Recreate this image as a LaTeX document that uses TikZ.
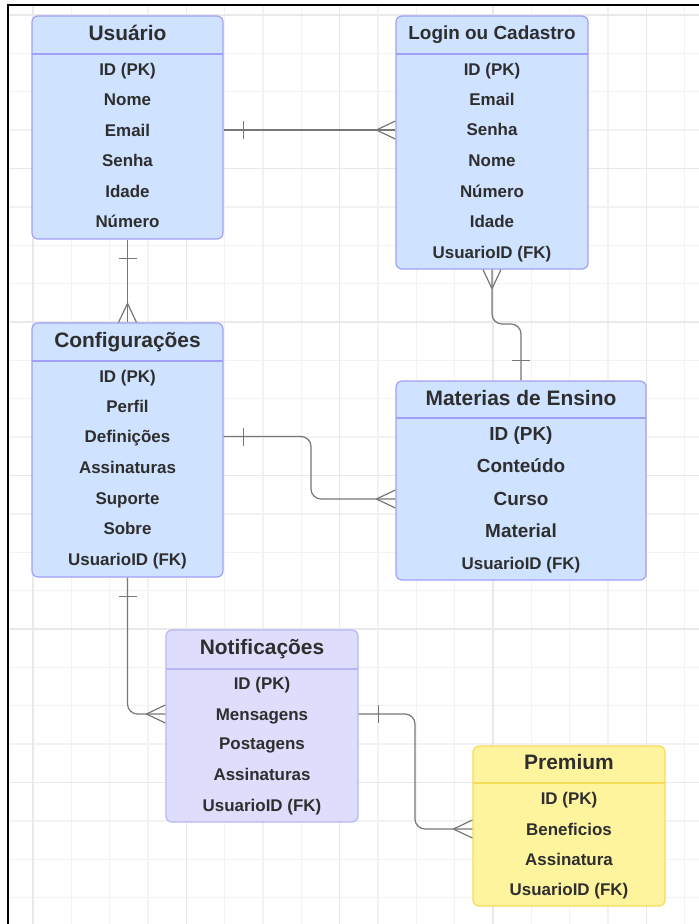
\documentclass[tikz,border=0pt]{standalone}
\usepackage{fontspec}
\setmainfont{Liberation Sans}
\usetikzlibrary{calc,fit}
\definecolor{blfill}{HTML}{CFE2FF}
\definecolor{bldraw}{HTML}{A0A0F8}
\definecolor{lvfill}{HTML}{DEDDFC}
\definecolor{lvdraw}{HTML}{B8B6F6}
\definecolor{ylfill}{HTML}{FFF49E}
\definecolor{yldraw}{HTML}{F6DB5C}
\definecolor{txtc}{HTML}{2E2E2E}
\definecolor{connc}{HTML}{777777}
\definecolor{gridmin}{HTML}{F2F2F2}
\definecolor{gridmaj}{HTML}{E9E9E9}
\newcommand\crowmark[3]{\draw[conn] ($(#1)+#2$) -- ($(#1)+#3$) ($(#1)+#2$) -- ($(#1)-#3$);}
\newcommand\barmark[3]{\draw[conn] ($(#1)+#2+#3$) -- ($(#1)+#2-#3$);}
\tikzset{
  tblbox/.style={rounded corners=6bp, line width=1.2bp, inner sep=0pt},
  bluebox/.style={tblbox, draw=bldraw, fill=blfill},
  lavbox/.style={tblbox, draw=lvdraw, fill=lvfill},
  yelbox/.style={tblbox, draw=yldraw, fill=ylfill},
  ttl/.style={inner sep=0pt, text=txtc, text height=15.1bp, text depth=0pt,
    font=\fontsize{21}{21}\selectfont\bfseries},
  ttlsmall/.style={inner sep=0pt, text=txtc, text height=13.7bp, text depth=0pt,
    font=\fontsize{19}{19}\selectfont\bfseries},
  rowtxt/.style={inner sep=0pt, text=txtc, text height=12.2bp, text depth=0pt,
    font=\fontsize{17}{17}\selectfont\bfseries},
  rowbig/.style={inner sep=0pt, text=txtc, text height=13.7bp, text depth=0pt,
    font=\fontsize{19}{19}\selectfont\bfseries},
  conn/.style={draw=connc, line width=1.2bp},
  hdr/.style={line width=1.2bp}
}
\begin{document}
\begin{tikzpicture}[x=1bp,y=-1bp]
\useasboundingbox (0,0) rectangle (699,924);
\fill[white] (0,0) rectangle (699,924);
% grid
\foreach \k in {0,...,17} {\draw[gridmin, line width=1.3bp] ({33+38.33*\k},5) -- ({33+38.33*\k},924);}
\foreach \k in {0,...,23} {\draw[gridmin, line width=1.3bp] (8,{15+38.375*\k}) -- (699,{15+38.375*\k});}
\foreach \k in {0,4,...,16} {\draw[gridmaj, line width=1.3bp] ({33+38.33*\k},5) -- ({33+38.33*\k},924);}
\foreach \k in {0,4,...,20} {\draw[gridmaj, line width=1.3bp] (8,{15+38.375*\k}) -- (699,{15+38.375*\k});}
% frame
\draw[black, line width=2.4bp] (699,5) -- (8,5) -- (8,924);

% ---------- Usuario
\node[bluebox, fit={(32,16) (223,239)}] (usu) {};
\draw[bldraw, hdr] (32,54) -- (223,54);
\node[ttl] (usuT) at (127.5,33) {Usuário};
\node[rowtxt] (usu1) at (127.5,69) {ID (PK)};
\node[rowtxt] (usu2) at (127.5,99.5) {Nome};
\node[rowtxt] (usuEmail) at (127.5,130) {Email};
\node[rowtxt] (usu4) at (127.5,160) {Senha};
\node[rowtxt] (usu5) at (127.5,191) {Idade};
\node[rowtxt] (usu6) at (127.5,221) {Número};

% ---------- Login
\node[bluebox, fit={(396,16) (588,269)}] (login) {};
\draw[bldraw, hdr] (396,54) -- (588,54);
\node[ttlsmall] (loginT) at (492,33) {Login ou Cadastro};
\node[rowtxt] (log1) at (492,69) {ID (PK)};
\node[rowtxt] (log2) at (492,99) {Email};
\node[rowtxt] (log3) at (492,129.5) {Senha};
\node[rowtxt] (log4) at (492,160) {Nome};
\node[rowtxt] (log5) at (492,191) {Número};
\node[rowtxt] (log6) at (492,221) {Idade};
\node[rowtxt] (log7) at (492,252) {UsuarioID (FK)};

% ---------- Configuracoes
\node[bluebox, fit={(32,323) (223,577)}] (cfg) {};
\draw[bldraw, hdr] (32,361) -- (223,361);
\node[ttl] (cfgT) at (127.5,340) {Configurações};
\node[rowtxt] (cfg1) at (127.5,376) {ID (PK)};
\node[rowtxt] (cfg2) at (127.5,406) {Perfil};
\node[rowtxt] (cfgDef) at (127.5,436.5) {Definições};
\node[rowtxt] (cfg4) at (127.5,467) {Assinaturas};
\node[rowtxt] (cfg5) at (127.5,498) {Suporte};
\node[rowtxt] (cfg6) at (127.5,528) {Sobre};
\node[rowtxt] (cfg7) at (127.5,559) {UsuarioID (FK)};

% ---------- Materias de Ensino
\node[bluebox, fit={(396,381) (646,580)}] (mat) {};
\draw[bldraw, hdr] (396,418) -- (646,418);
\node[ttl] (matT) at (521,398) {Materias de Ensino};
\node[rowbig] (mat1) at (521,434) {ID (PK)};
\node[rowbig] (mat2) at (521,466) {Conteúdo};
\node[rowbig] (matCurso) at (521,499) {Curso};
\node[rowbig] (mat4) at (521,531) {Material};
\node[rowtxt] (mat5) at (521,563) {UsuarioID (FK)};

% ---------- Notificacoes
\node[lavbox, fit={(166,630) (358,822)}] (notif) {};
\draw[lvdraw, hdr] (166,669) -- (358,669);
\node[ttl] (notT) at (262,647) {Notificações};
\node[rowtxt] (not1) at (262,683) {ID (PK)};
\node[rowtxt] (notMens) at (262,714) {Mensagens};
\node[rowtxt] (not3) at (262,743.5) {Postagens};
\node[rowtxt] (not4) at (262,774) {Assinaturas};
\node[rowtxt] (not5) at (262,805) {UsuarioID (FK)};

% ---------- Premium
\node[yelbox, fit={(473,746) (665,906)}] (prem) {};
\draw[yldraw, hdr] (473,783) -- (665,783);
\node[ttl] (premT) at (569,762) {Premium};
\node[rowtxt] (pre1) at (569,798) {ID (PK)};
\node[rowtxt] (preBen) at (569,829) {Beneficios};
\node[rowtxt] (pre3) at (569,859) {Assinatura};
\node[rowtxt] (pre4) at (569,889) {UsuarioID (FK)};

% ---------- connectors
\coordinate (j3) at (0,324);
\coordinate (j4) at (311,0);
\coordinate (j6) at (415,0);

% 1 Usuario - Login
\coordinate (e1a) at (usu.east |- usuEmail);
\coordinate (e1b) at (login.west |- usuEmail);
\draw[conn] (e1a) -- (e1b);
\barmark{e1a}{(20,0)}{(0,9)}
\crowmark{e1b}{(-19,0)}{(0,9)}

% 2 Usuario - Configuracoes
\draw[conn] (usu.south) -- (cfg.north);
\barmark{usu.south}{(0,19)}{(9,0)}
\crowmark{cfg.north}{(0,-19)}{(9,0)}

% 3 Login - Materias
\draw[conn, rounded corners=10bp] (login.south) -- (login.south |- j3) -- (mat.north |- j3) -- (mat.north);
\crowmark{login.south}{(0,19)}{(9,0)}
\barmark{mat.north}{(0,-20)}{(9,0)}

% 4 Configuracoes - Materias
\coordinate (e4a) at (cfg.east |- cfgDef);
\coordinate (e4b) at (mat.west |- matCurso);
\draw[conn, rounded corners=10bp] (e4a) -- (j4 |- e4a) -- (j4 |- e4b) -- (e4b);
\barmark{e4a}{(20,0)}{(0,9)}
\crowmark{e4b}{(-19,0)}{(0,9)}

% 5 Configuracoes - Notificacoes
\coordinate (e5b) at (notif.west |- notMens);
\draw[conn, rounded corners=10bp] (cfg.south) -- (cfg.south |- e5b) -- (e5b);
\barmark{cfg.south}{(0,19)}{(9,0)}
\crowmark{e5b}{(-19,0)}{(0,9)}

% 6 Notificacoes - Premium
\coordinate (e6a) at (notif.east |- notMens);
\coordinate (e6b) at (prem.west |- preBen);
\draw[conn, rounded corners=10bp] (e6a) -- (j6 |- e6a) -- (j6 |- e6b) -- (e6b);
\barmark{e6a}{(20,0)}{(0,9)}
\crowmark{e6b}{(-19,0)}{(0,9)}
\end{tikzpicture}
\end{document}
